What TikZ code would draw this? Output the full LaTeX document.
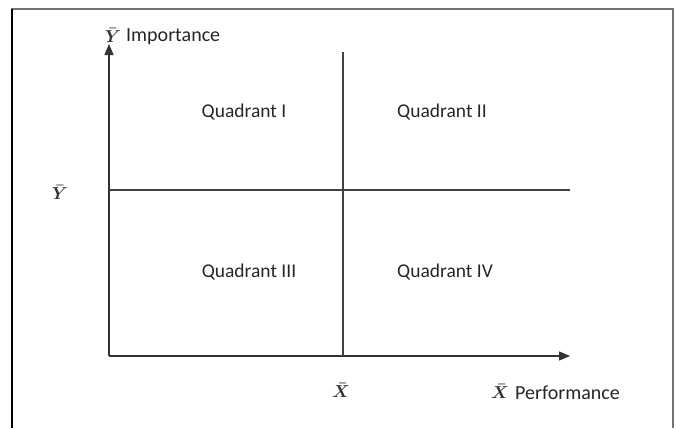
\documentclass[tikz,border=0pt]{standalone}
\usepackage{fontspec}
\usepackage{amsmath}
\setmainfont{Carlito}
\usetikzlibrary{arrows.meta}
\begin{document}
\begin{tikzpicture}[x=1pt,y=-1pt,
  lbl/.style={font=\fontsize{19.5}{22}\selectfont, text=black!85, inner sep=0pt},
  title/.style={font=\fontsize{20}{23}\selectfont, text=black!85, inner sep=0pt},
  sym/.style={font=\fontsize{17}{20}\selectfont, text=black!80, inner sep=0pt},
  axis/.style={line width=1.3pt, draw=black!80, -{Triangle[length=11pt,width=9pt]}},
  divider/.style={line width=1.2pt, draw=black!75}]
\useasboundingbox (0,0) rectangle (676,428);
% page frame
\draw[line width=1.2pt, draw=black!55] (12,428) -- (12,9) -- (673,9) -- (673,428);
\draw[line width=1.2pt, draw=black] (12,9) -- (12,428);
% axes
\coordinate (O) at (109,356);
\coordinate (ytop) at (109,44);
\coordinate (xend) at (570,356);
\draw[axis] (O) -- (ytop);
\draw[axis] (O) -- (xend);
% mean lines
\coordinate (hl) at (109,190);
\coordinate (hr) at (570,190);
\coordinate (vt) at (343,52);
\coordinate (vb) at (343,356);
\draw[divider] (hl) -- (hr);
\draw[divider] (vt) -- (vb);
% quadrant labels
\node[lbl] (q1) at (244,112) {Quadrant I};
\node[lbl] (q2) at (442,112) {Quadrant II};
\node[lbl] (q3) at (249,272) {Quadrant III};
\node[lbl] (q4) at (445,272) {Quadrant IV};
% axis titles and means
\node[sym] (ybar) at (113,35) {$\boldsymbol{\bar{Y}}$};
\node[title, anchor=west] (imp) at (126,37) {Importance};
\node[sym] (ymean) at (60,192) {$\boldsymbol{\bar{Y}}$};
\node[sym] (xmean) at (341,390) {$\boldsymbol{\bar{X}}$};
\node[sym] (xbar) at (500,391) {$\boldsymbol{\bar{X}}$};
\node[title, anchor=west] (perf) at (515,393) {Performance};
\end{tikzpicture}
\end{document}
